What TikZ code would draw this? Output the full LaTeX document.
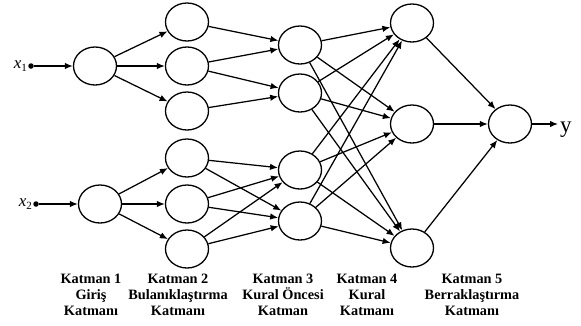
\documentclass[tikz,border=0pt]{standalone}
\usepackage{fontspec}
\setmainfont{Liberation Serif}
\usetikzlibrary{arrows.meta,shapes.geometric}
\begin{document}
\begin{tikzpicture}[x=1pt,y=-1pt,
  neuron/.style={draw,ellipse,line width=1.3pt,minimum width=43pt,minimum height=38pt,inner sep=0pt},
  arr/.style={-{Latex[length=8pt,width=6.5pt]},line width=1.25pt},
  dotn/.style={circle,fill,inner sep=0pt,minimum size=5.5pt},
  inlbl/.style={font=\fontsize{17}{17}\selectfont,anchor=east,inner sep=1pt},
  lbl/.style={font=\bfseries\fontsize{14.3}{16}\selectfont,align=center,anchor=north,inner sep=0pt}]
\useasboundingbox (0,0) rectangle (581,325);

% layer 1: inputs
\node[neuron] (i1) at (95,66) {};
\node[neuron] (i2) at (100,204) {};
% layer 2: fuzzification
\node[neuron] (f1) at (187,22) {};
\node[neuron] (f2) at (187,66) {};
\node[neuron] (f3) at (187,111) {};
\node[neuron] (f4) at (187,158) {};
\node[neuron] (f5) at (187,204) {};
\node[neuron] (f6) at (187,249) {};
% layer 3: antecedent
\node[neuron] (p1) at (300,45) {};
\node[neuron] (p2) at (300,93) {};
\node[neuron] (p3) at (300,170) {};
\node[neuron] (p4) at (300,221) {};
% layer 4: rules
\node[neuron] (r1) at (412,23) {};
\node[neuron] (r2) at (412,124) {};
\node[neuron] (r3) at (412,248) {};
% layer 5: defuzzification
\node[neuron] (o) at (510,124) {};

% inputs
\node[dotn] (d1) at (31,66) {};
\node[dotn] (d2) at (36,204) {};
\node[inlbl] at (d1.west) {\itshape x\raisebox{-0.4ex}{\fontsize{11}{11}\selectfont\upshape 1}};
\node[inlbl] at (d2.west) {\itshape x\raisebox{-0.4ex}{\fontsize{11}{11}\selectfont\upshape 2}};
\draw[arr] (d1) -- (i1);
\draw[arr] (d2) -- (i2);

% output
\coordinate (yend) at (558,124);
\node[anchor=base west,inner sep=0pt,font=\fontsize{23}{23}\selectfont] (ylab) at (560,132) {y};
\draw[arr] (o) -- (yend);

% connections
\foreach \t in {f1,f2,f3} \draw[arr] (i1) -- (\t);
\foreach \t in {f4,f5,f6} \draw[arr] (i2) -- (\t);
\draw[arr] (f1) -- (p1);
\draw[arr] (f2) -- (p1);
\draw[arr] (f2) -- (p2);
\draw[arr] (f3) -- (p2);
\foreach \s in {f4,f5,f6} {
  \draw[arr] (\s) -- (p3);
  \draw[arr] (\s) -- (p4);
}
\foreach \s in {p1,p2,p3,p4}
  \foreach \t in {r1,r2,r3}
    \draw[arr] (\s) -- (\t);
\foreach \s in {r1,r2,r3} \draw[arr] (\s) -- (o);

% layer captions
\node[lbl] (c1) at (91,274) {Katman 1\\Giriş\\Katmanı};
\node[lbl] (c2) at (178,274) {Katman 2\\Bulanıklaştırma\\Katmanı};
\node[lbl] (c3) at (283,274) {Katman 3\\Kural Öncesi\\Katman};
\node[lbl] (c4) at (367,274) {Katman 4\\Kural\\Katmanı};
\node[lbl] (c5) at (472,274) {Katman 5\\Berraklaştırma\\Katmanı};
\end{tikzpicture}
\end{document}
